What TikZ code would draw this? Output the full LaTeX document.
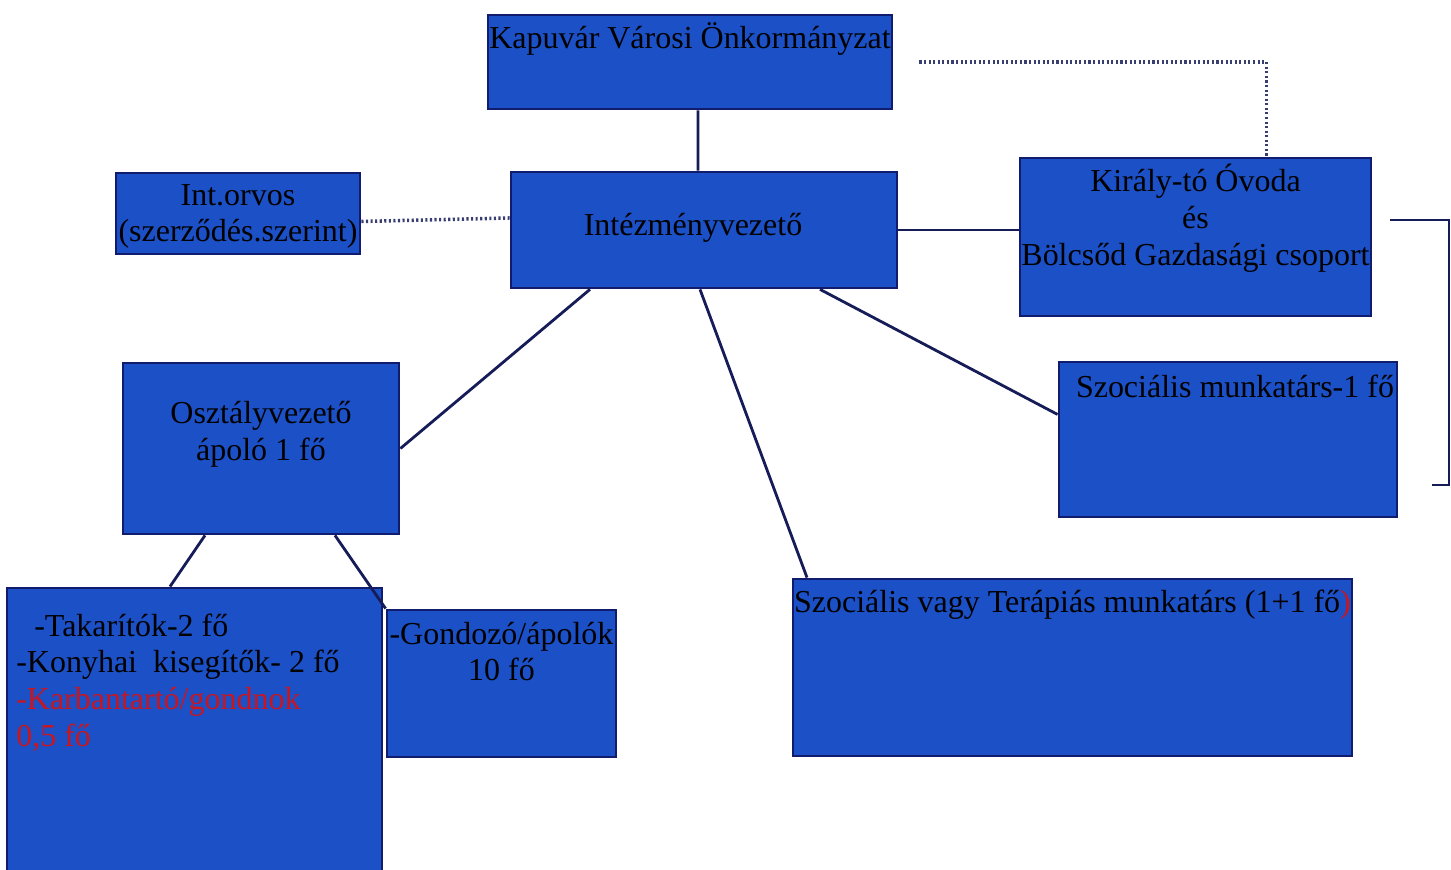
\documentclass[tikz,border=0pt]{standalone}
\usepackage{fontspec}
\setmainfont{Liberation Serif}
\usepackage{tikz}
\usetikzlibrary{positioning}

\definecolor{boxblue}{RGB}{28,80,198}
\definecolor{boxline}{RGB}{18,28,110}
\definecolor{linknavy}{RGB}{22,28,88}
\definecolor{txtred}{RGB}{200,22,32}

\begin{document}
\begin{tikzpicture}[
        box/.style={draw=boxline, line width=0.8pt, fill=boxblue, inner sep=0pt},
        txt/.style={font=\fontsize{9.1}{10.5}\selectfont, align=center, inner sep=0pt},
        link/.style={draw=linknavy, line width=0.8pt},
        dotlink/.style={draw=linknavy!85, line width=1pt, dash pattern=on 0.6pt off 0.7pt}
    ]
        % \draw[help lines,xstep=1,ystep=1] (0,0) grid (14,8);
        \useasboundingbox (0,0) rectangle (14.51,8.70);

        \node[box, minimum width=4.04cm, minimum height=0.94cm] (kap) at (6.90,8.08) {};
        \node[box, minimum width=3.86cm, minimum height=1.16cm] (intez) at (7.04,6.40) {};
        \node[box, minimum width=2.44cm, minimum height=0.81cm] (orvos) at (2.38,6.565) {};
        \node[box, minimum width=3.51cm, minimum height=1.58cm] (kir) at (11.955,6.33) {};
        \node[box, minimum width=3.38cm, minimum height=1.55cm] (szoc) at (12.28,4.305) {};
        \node[box, minimum width=2.76cm, minimum height=1.71cm] (oszt) at (2.61,4.215) {};
        \node[box, minimum width=3.75cm, minimum height=2.87cm] (takar) at (1.945,1.385) {};
        \node[box, minimum width=2.29cm, minimum height=1.47cm] (gond) at (5.015,1.865) {};
        \node[box, minimum width=5.59cm, minimum height=1.77cm] (terap) at (10.725,2.025) {};

        \node[txt] (kaptxt) at ([yshift=-0.25cm]kap.north) {Kapuvár Városi Önkormányzat};
        \node[txt] (intxt) at ([xshift=-0.11cm,yshift=0.02cm]intez.center) {Intézményvezető};
        \node[txt] (orvtxt) at ([yshift=-0.03cm]orvos.center) {Int.orvos\\(szerződés.szerint)};
        \node[txt] (kirtxt) at ([yshift=-0.62cm]kir.north) {Király-tó Óvoda\\és\\Bölcsőd Gazdasági csoport};
        \node[txt] (szoctxt) at ([xshift=0.07cm,yshift=-0.26cm]szoc.north) {Szociális munkatárs-1 fő};
        \node[txt] (oszttxt) at ([yshift=-0.73cm]oszt.north) {Osztályvezető\\ápoló 1 fő};
        \node[txt, align=left, anchor=west] (taktxt) at ([xshift=0.10cm,yshift=-0.96cm]takar.north west)
            {\hspace{0.18cm}-Takarítók-2 fő\\-Konyhai\ \ kisegítők- 2 fő\\\textcolor{txtred}{-Karbantartó/gondnok}\\\textcolor{txtred}{0,5 fő}};
        \node[txt] (gondtxt) at ([yshift=-0.43cm]gond.north) {-Gondozó/ápolók\\10 fő};
        \node[txt] (teraptxt) at ([yshift=-0.27cm]terap.north) {Szociális vagy Terápiás munkatárs (1+1 fő\textcolor{txtred}{)}};

        % Kapuvar to Intezmenyvezeto
        \draw[link] ([xshift=0.08cm]kap.south) -- ([xshift=-0.06cm]intez.north);

        % Kapuvar to Kiraly-to (dotted)
        \draw[dotlink, shorten <=0.26cm] (kap.east) -| ([xshift=0.71cm]kir.north);

        % orvos to Intezmenyvezeto (dotted)
        \draw[dotlink] ([yshift=-0.08cm]orvos.east) -- ([yshift=0.12cm]intez.west);

        % Intezmenyvezeto to Kiraly-to
        \draw[link] (intez.east) -- (intez.east -| kir.west);

        % bracket at the right edge
        \coordinate (brin) at (13.90,6.50);
        \coordinate (brtop) at (14.49,6.50);
        \coordinate (brbot) at (14.49,3.85);
        \coordinate (brout) at (14.32,3.85);
        \draw[link] (brin) -- (brtop) -- (brbot) -- (brout);

        % Intezmenyvezeto to the staff
        \draw[link] ([xshift=-1.14cm]intez.south) -- (oszt.east);
        \draw[link] ([xshift=-0.04cm]intez.south) -- ([xshift=-2.655cm]terap.north);
        \draw[link] ([xshift=1.16cm]intez.south) -- ([yshift=0.25cm]szoc.west);

        % Osztalyvezeto to the groups
        \draw[link] ([xshift=-0.56cm]oszt.south) -- ([xshift=-0.245cm]takar.north);
        \draw[link] ([xshift=0.74cm]oszt.south) -- (gond.north west);

      \end{tikzpicture}
\end{document}
